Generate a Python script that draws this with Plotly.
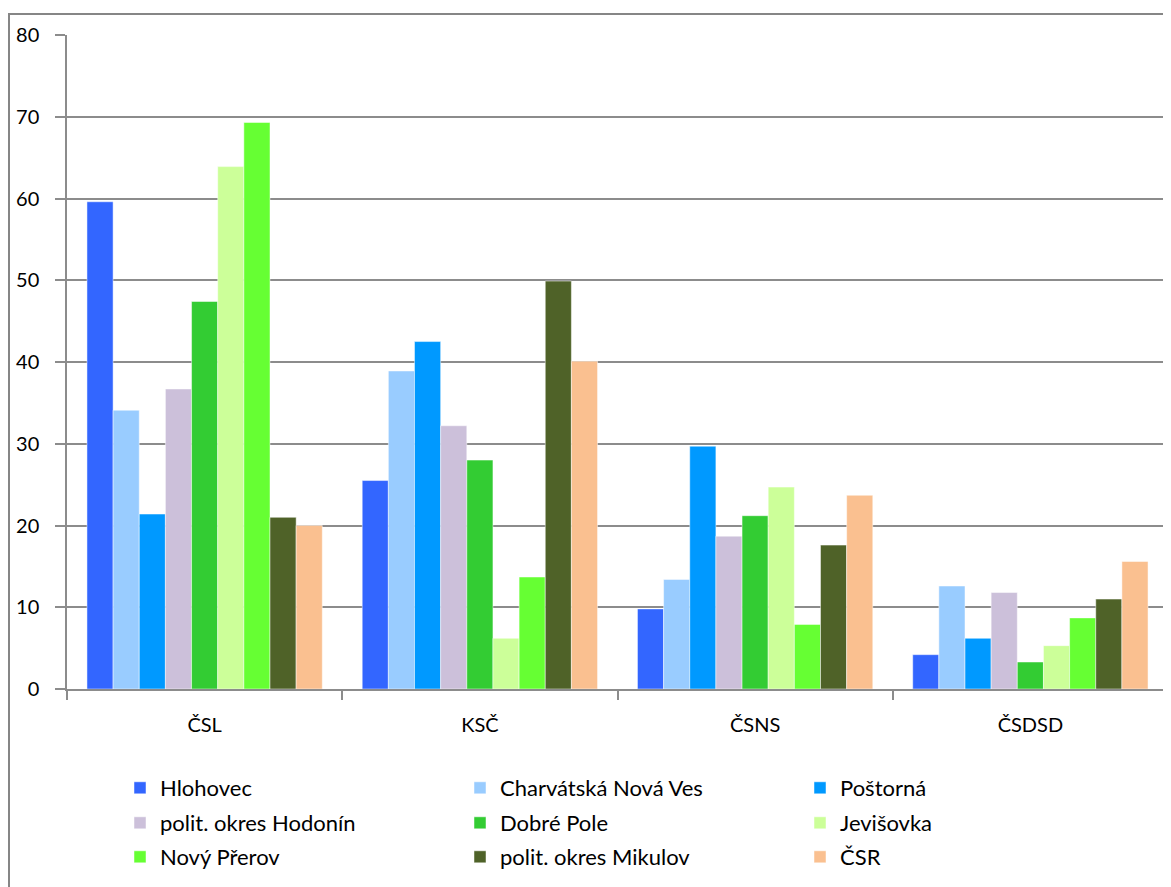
import plotly.graph_objects as go

categories = ["ČSL", "KSČ", "ČSNS", "ČSDSD"]

series_names = [
    "Hlohovec", "Charvátská Nová Ves", "Poštorná",
    "polit. okres Hodonín", "Dobré Pole", "Jevišovka",
    "Nový Přerov", "polit. okres Mikulov", "ČSR",
]

hlohovec = [59.6, 25.5, 9.8, 4.2]
charvatska = [34.1, 38.9, 13.4, 12.6]
postorna = [21.4, 42.5, 29.7, 6.2]
hodonin = [36.7, 32.2, 18.7, 11.8]
dobre_pole = [47.4, 28.0, 21.2, 3.3]
jevisovka = [63.9, 6.2, 24.7, 5.3]
novy_prerov = [69.3, 13.7, 7.9, 8.7]
mikulov = [21.0, 49.9, 17.6, 11.0]
csr = [20.0, 40.1, 23.7, 15.6]

series_values = [hlohovec, charvatska, postorna, hodonin, dobre_pole,
                 jevisovka, novy_prerov, mikulov, csr]

colors = ["#3366FF", "#99CCFF", "#0099FF", "#CCC0DA", "#33CC33",
          "#CCFF99", "#66FF33", "#4F6228", "#FAC090"]

y_ticks = [0, 10, 20, 30, 40, 50, 60, 70, 80]

FONT = "Lato, Carlito, Calibri, sans-serif"
GRID = "#8C8C8C"

# page has an 8px body margin; figure coordinates = page coordinates - 8
W, H = 1163, 879
L, R, T, B = 59, 1160, 27, 681
PW, PH = R - L, B - T


def py(pix):
    return (B - pix) / PH


def px(pix):
    return (pix - L) / PW


legend_ids = ["legend", "legend2", "legend3"]

fig = go.Figure()
for i, (name, vals, col) in enumerate(zip(series_names, series_values, colors)):
    fig.add_trace(go.Bar(
        name=name, x=categories, y=vals,
        marker=dict(color=col, line=dict(color="rgba(255,255,255,0.6)", width=0.8)),
        legend=legend_ids[i // 3],
    ))

row_centers = [780, 815, 849]
legend_common = dict(
    orientation="h",
    x=px(112), xanchor="left",
    yanchor="middle",
    entrywidth=295, entrywidthmode="pixels",
    font=dict(family=FONT, size=22, color="#000000"),
    traceorder="normal",
    bgcolor="rgba(0,0,0,0)",
    itemclick=False, itemdoubleclick=False,
)

fig.update_layout(
    width=W, height=H,
    margin=dict(l=L, r=W - R, t=T, b=H - B, autoexpand=False),
    paper_bgcolor="white", plot_bgcolor="white",
    barmode="group", bargap=0.145, bargroupgap=0,
    font=dict(family=FONT, size=20, color="#000000"),
    showlegend=True,
    legend=dict(legend_common, y=py(row_centers[0])),
    legend2=dict(legend_common, y=py(row_centers[1])),
    legend3=dict(legend_common, y=py(row_centers[2])),
    xaxis=dict(
        type="category",
        showline=True, linecolor=GRID, linewidth=1.5,
        ticks="outside", tickson="boundaries", ticklen=9,
        tickcolor=GRID, tickwidth=1.5,
        showgrid=False,
        tickfont=dict(family=FONT, size=20),
        ticklabelstandoff=17,
    ),
    yaxis=dict(
        range=[0, 80], tickvals=y_ticks,
        showline=True, linecolor=GRID, linewidth=1.5,
        ticks="outside", ticklen=10, tickcolor=GRID, tickwidth=1.5,
        showgrid=True, gridcolor=GRID, gridwidth=1.5,
        zeroline=False,
        tickfont=dict(family=FONT, size=20),
        ticklabelstandoff=12,
    ),
    shapes=[
        dict(type="rect", xref="paper", yref="paper",
             x0=px(1), x1=px(1200),
             y0=py(900), y1=py(6),
             line=dict(color="#868686", width=2), fillcolor="rgba(0,0,0,0)",
             layer="below"),
    ],
)

fig.write_html("out.html")
